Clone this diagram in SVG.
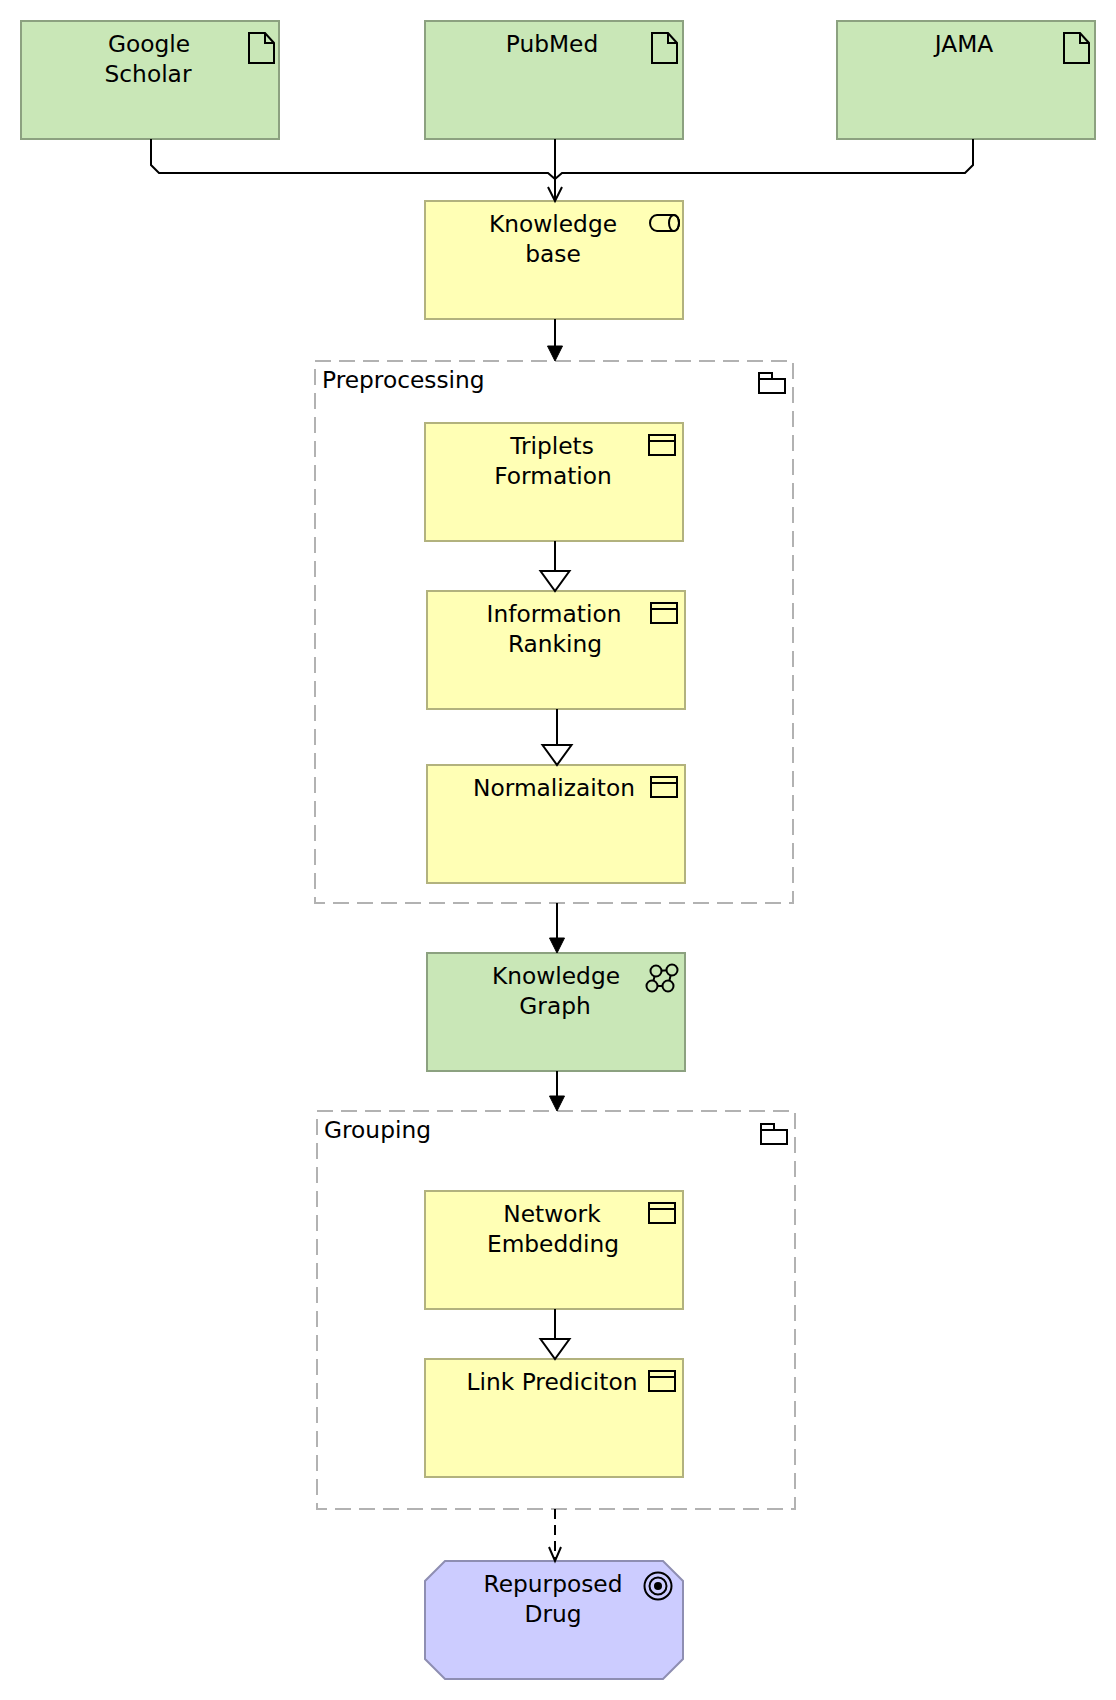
<svg xmlns="http://www.w3.org/2000/svg" width="1116" height="1700" viewBox="0 0 1116 1700">
<style>
text{font-family:"DejaVu Sans","Liberation Sans",sans-serif;font-size:23.300px;fill:#000;text-anchor:middle}
text.l{text-anchor:start}
.g{fill:#c9e7b7;stroke:#8ca180;stroke-width:2}
.y{fill:#ffffb5;stroke:#b2b27e;stroke-width:2}
.p{fill:#ccccff;stroke:#8e8eb2;stroke-width:2}
.f{fill:none;stroke:#b2b2b2;stroke-width:2;stroke-dasharray:16 8}
.i{fill:none;stroke:#000;stroke-width:2}
.c{fill:none;stroke:#000;stroke-width:2}
.d{stroke-dasharray:10 6}
</style>
<defs>
<g id="doc"><path class="i" d="M0 0H16L25 10V30H0Z M16 0V10H25"/></g>
<g id="win"><rect class="i" width="26" height="20"/><path class="i" d="M0 6H26"/></g>
<g id="folder"><path class="i" d="M0 6H13V0H0V20H26V6H13"/></g>
</defs>

<g id="group-preprocessing">
<rect class="f" x="315" y="361" width="478" height="542"/>
<text class="l" x="322" y="388">Preprocessing</text>
<use href="#folder" x="759" y="373"/>
</g>
<g id="group-grouping">
<rect class="f" x="317" y="1111" width="478" height="398"/>
<text class="l" x="324" y="1138">Grouping</text>
<use href="#folder" x="761" y="1124"/>
</g>

<g id="google-scholar">
<rect class="g" x="21" y="21" width="258" height="118"/>
<text x="149" y="52">Google</text><text x="148" y="82">Scholar</text>
<use href="#doc" x="249" y="33"/>
</g>
<g id="pubmed">
<rect class="g" x="425" y="21" width="258" height="118"/>
<text x="552" y="52">PubMed</text>
<use href="#doc" x="652" y="33"/>
</g>
<g id="jama">
<rect class="g" x="837" y="21" width="258" height="118"/>
<text x="964" y="52">JAMA</text>
<use href="#doc" x="1064" y="33"/>
</g>
<g id="knowledge-base">
<rect class="y" x="425" y="201" width="258" height="118"/>
<text x="553" y="232">Knowledge</text><text x="553" y="262">base</text>
<path class="i" d="M657 215H674A5 8 0 0 1 674 231H657A7 8 0 0 1 657 215Z"/>
<ellipse class="i" cx="674" cy="223" rx="5" ry="8"/>
</g>
<g id="triplets-formation">
<rect class="y" x="425" y="423" width="258" height="118"/>
<text x="552" y="454">Triplets</text><text x="553" y="484">Formation</text>
<use href="#win" x="649" y="435"/>
</g>
<g id="information-ranking">
<rect class="y" x="427" y="591" width="258" height="118"/>
<text x="554" y="622">Information</text><text x="555" y="652">Ranking</text>
<use href="#win" x="651" y="603"/>
</g>
<g id="normalizaiton">
<rect class="y" x="427" y="765" width="258" height="118"/>
<text x="554" y="796">Normalizaiton</text>
<use href="#win" x="651" y="777"/>
</g>
<g id="knowledge-graph">
<rect class="g" x="427" y="953" width="258" height="118"/>
<text x="556" y="984">Knowledge</text><text x="555" y="1014">Graph</text>
<path class="i" d="M656 971L672 970L668 986L652 986Z"/>
<g fill="#c9e7b7" stroke="#000" stroke-width="2">
<circle cx="656" cy="971" r="5.500"/><circle cx="672" cy="970" r="5.500"/><circle cx="652" cy="986" r="5.500"/><circle cx="668" cy="986" r="5.500"/>
</g>
</g>
<g id="network-embedding">
<rect class="y" x="425" y="1191" width="258" height="118"/>
<text x="552" y="1222">Network</text><text x="553" y="1252">Embedding</text>
<use href="#win" x="649" y="1203"/>
</g>
<g id="link-prediciton">
<rect class="y" x="425" y="1359" width="258" height="118"/>
<text x="552" y="1390">Link Prediciton</text>
<use href="#win" x="649" y="1371"/>
</g>
<g id="repurposed-drug">
<path class="p" d="M445 1561H663L683 1581V1659L663 1679H445L425 1659V1581Z"/>
<text x="553" y="1592">Repurposed</text><text x="553" y="1622">Drug</text>
<circle class="i" cx="658" cy="1586" r="13.500"/><circle class="i" cx="658" cy="1586" r="8.500"/><circle cx="658" cy="1586" r="4" fill="#000"/>
</g>

<g id="connectors">
<path class="c" d="M151 139V165L159 173H548L555 179"/>
<path class="c" d="M973 139V165L965 173H562L555 179"/>
<path class="c" d="M555 139V201"/>
<path class="c" d="M548 187L555 201L562 187"/>
<path class="c" d="M555 319V347"/>
<path d="M547.500 346H562.500L555 361Z" fill="#000" stroke="#000"/>
<path class="c" d="M555 541V571"/>
<path d="M540.500 571H569.500L555 591Z" fill="#fff" stroke="#000" stroke-width="2"/>
<path class="c" d="M557 709V745"/>
<path d="M542.500 745H571.500L557 765Z" fill="#fff" stroke="#000" stroke-width="2"/>
<path class="c" d="M557 903V938"/>
<path d="M549.500 938H564.500L557 953Z" fill="#000" stroke="#000"/>
<path class="c" d="M557 1071V1096"/>
<path d="M549.500 1096H564.500L557 1111Z" fill="#000" stroke="#000"/>
<path class="c" d="M555 1309V1339"/>
<path d="M540.500 1339H569.500L555 1359Z" fill="#fff" stroke="#000" stroke-width="2"/>
<path class="c d" d="M555 1509V1560"/>
<path class="c" d="M549 1547L555 1561L561 1547"/>
</g>
</svg>
